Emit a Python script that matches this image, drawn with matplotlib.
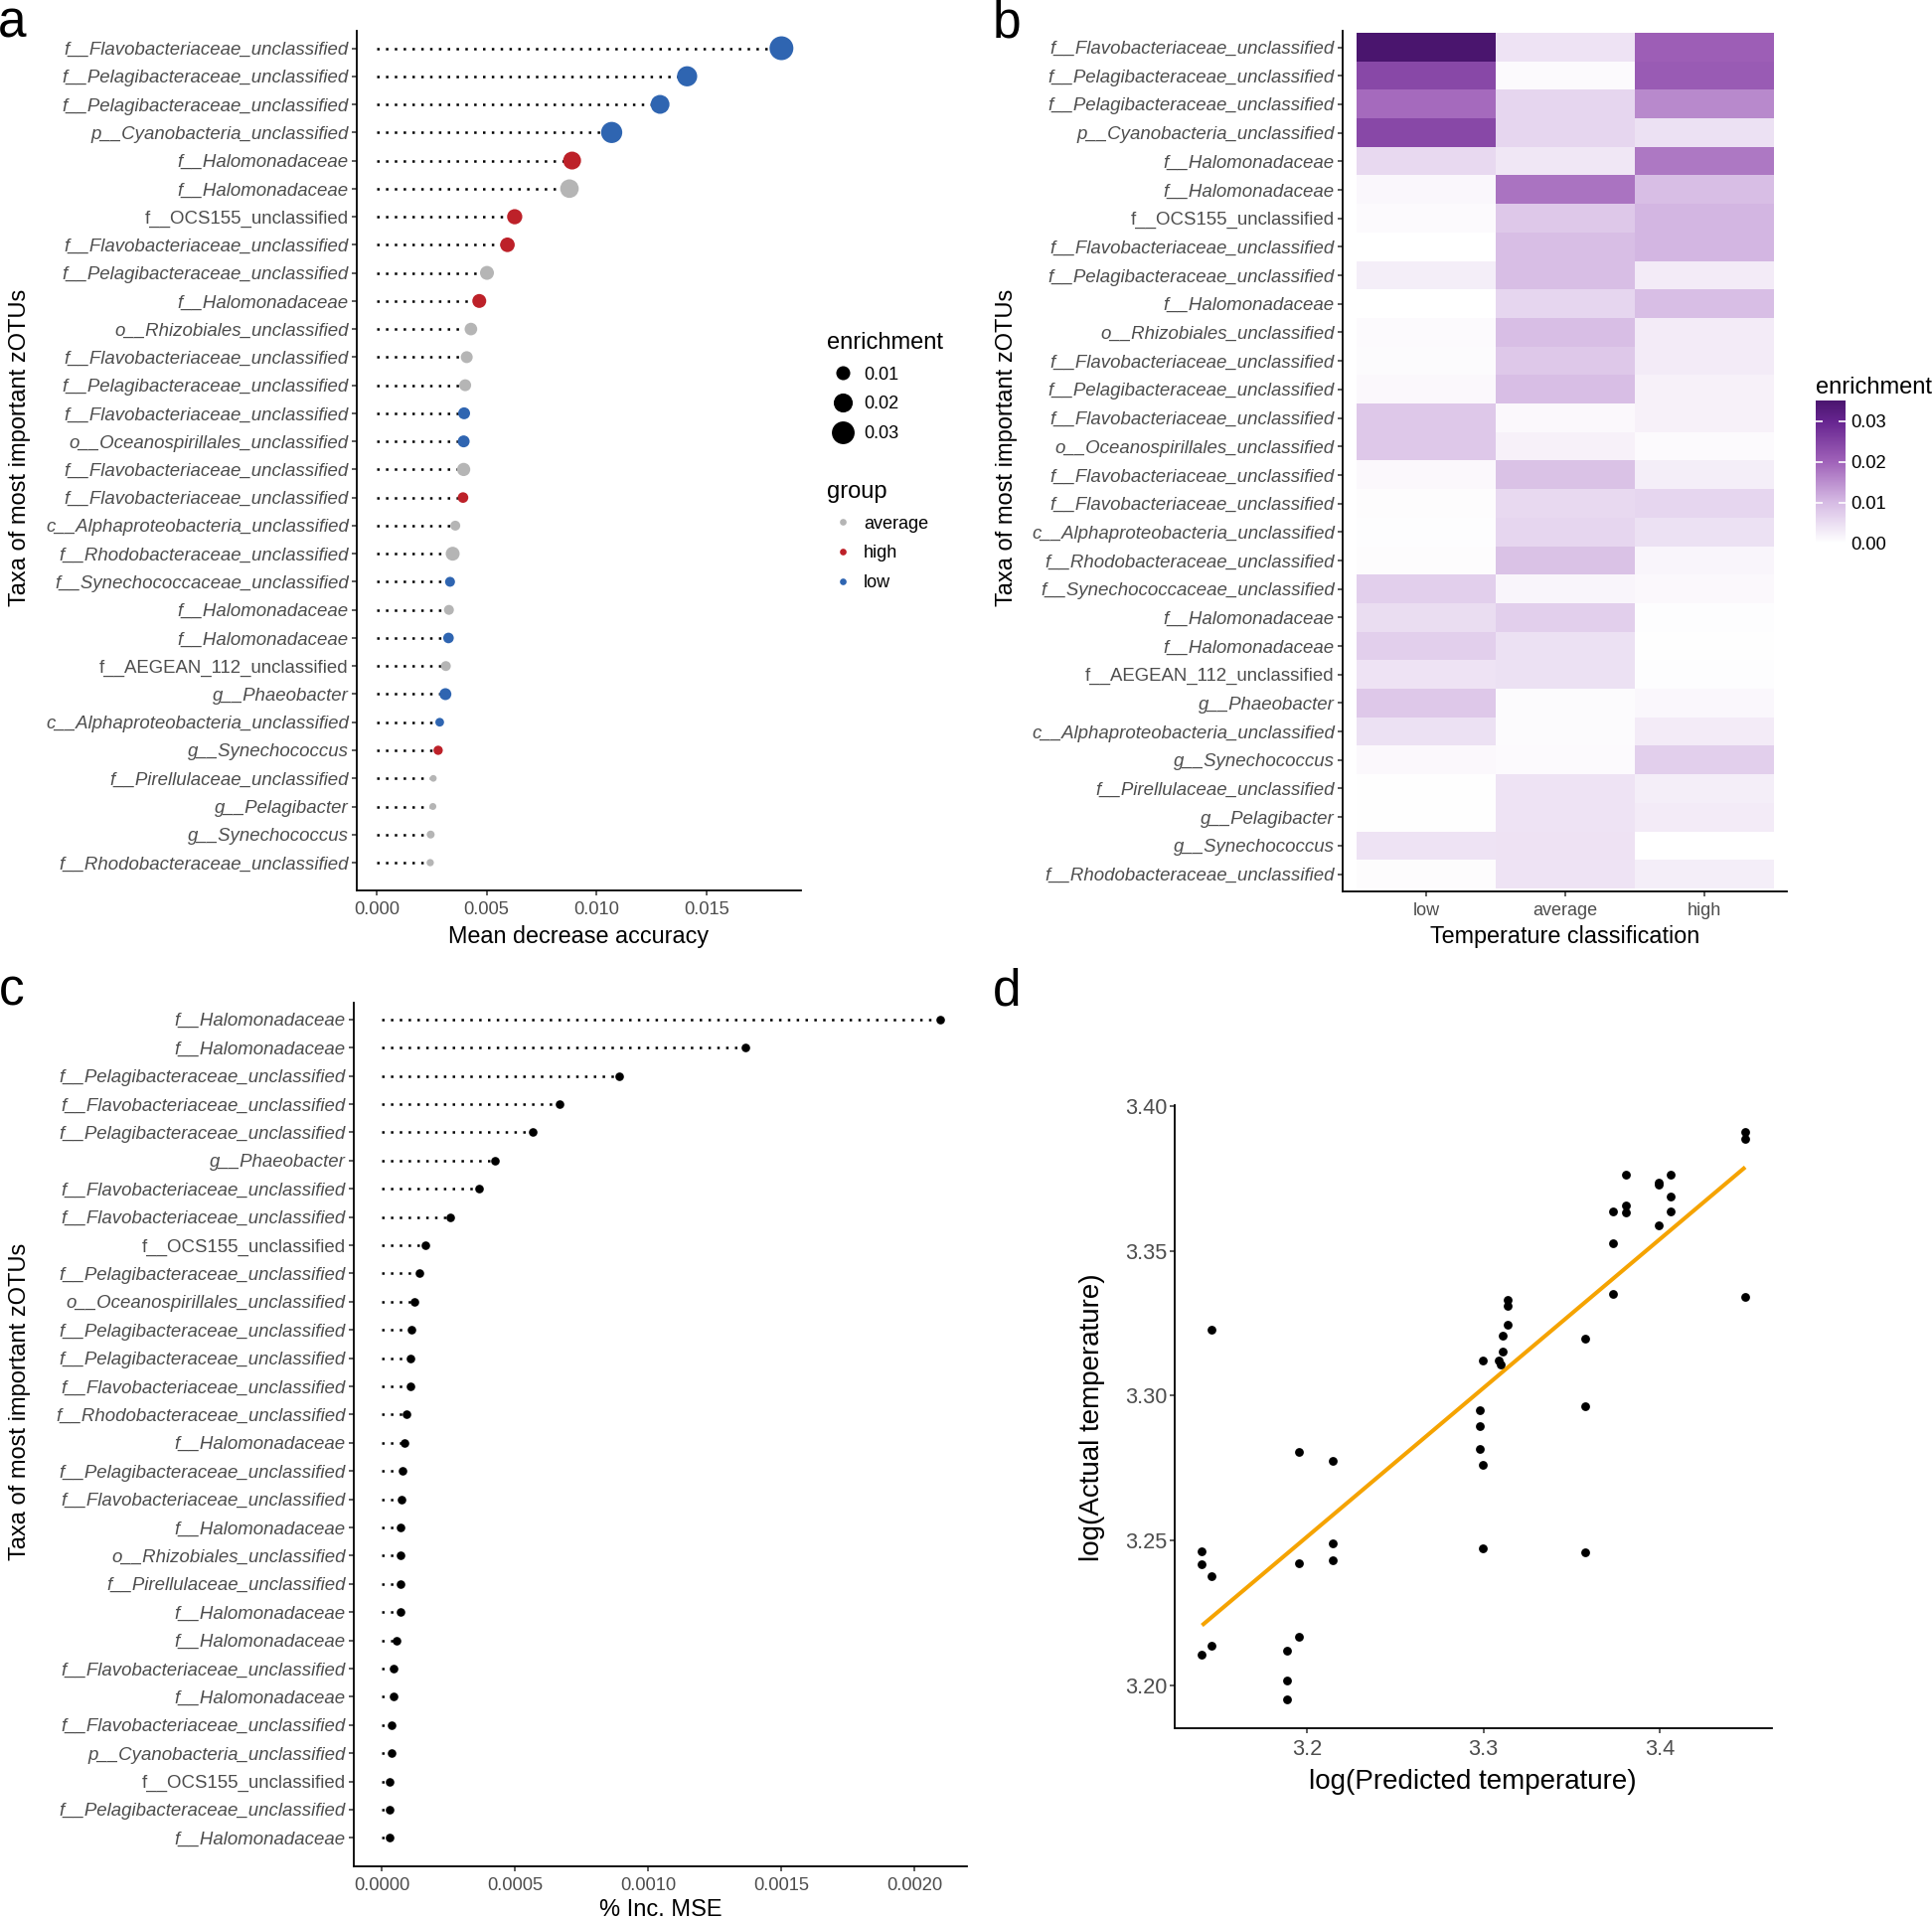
import numpy as np
import matplotlib
matplotlib.use("Agg")
import matplotlib.pyplot as plt
from matplotlib.colors import LinearSegmentedColormap
from matplotlib.lines import Line2D

plt.rcParams['font.family'] = ['Liberation Sans', 'DejaVu Sans']

W, H = 1944, 1932
DPI = 100
PX = 72.0 / DPI  # points per pixel

# ---------------- data ----------------
taxa_a = [
    "f__Flavobacteriaceae_unclassified", "f__Pelagibacteraceae_unclassified",
    "f__Pelagibacteraceae_unclassified", "p__Cyanobacteria_unclassified",
    "f__Halomonadaceae", "f__Halomonadaceae", "f__OCS155_unclassified",
    "f__Flavobacteriaceae_unclassified", "f__Pelagibacteraceae_unclassified",
    "f__Halomonadaceae", "o__Rhizobiales_unclassified",
    "f__Flavobacteriaceae_unclassified", "f__Pelagibacteraceae_unclassified",
    "f__Flavobacteriaceae_unclassified", "o__Oceanospirillales_unclassified",
    "f__Flavobacteriaceae_unclassified", "f__Flavobacteriaceae_unclassified",
    "c__Alphaproteobacteria_unclassified", "f__Rhodobacteraceae_unclassified",
    "f__Synechococcaceae_unclassified", "f__Halomonadaceae", "f__Halomonadaceae",
    "f__AEGEAN_112_unclassified", "g__Phaeobacter",
    "c__Alphaproteobacteria_unclassified", "g__Synechococcus",
    "f__Pirellulaceae_unclassified", "g__Pelagibacter", "g__Synechococcus",
    "f__Rhodobacteraceae_unclassified",
]
mda_a = [0.01841, 0.01412, 0.01289, 0.01069, 0.00889, 0.00877, 0.00628, 0.00595,
         0.00502, 0.00467, 0.00429, 0.00410, 0.00403, 0.00398, 0.00396, 0.00396,
         0.00393, 0.00358, 0.00346, 0.00334, 0.00329, 0.00327, 0.00315, 0.00313,
         0.00287, 0.00280, 0.00258, 0.00256, 0.00246, 0.00244]
enrich_a = [0.0334, 0.0229, 0.0197, 0.0256, 0.0175, 0.0190, 0.0121, 0.0110,
            0.0099, 0.0099, 0.0079, 0.0070, 0.0070, 0.0070, 0.0070, 0.0088,
            0.0054, 0.0047, 0.0099, 0.0047, 0.0047, 0.0054, 0.0047, 0.0070,
            0.0036, 0.0041, 0.0023, 0.0024, 0.0030, 0.0026]
group_a = ["low", "low", "low", "low", "high", "average", "high", "high",
           "average", "high", "average", "average", "average", "low", "low",
           "average", "high", "average", "average", "low", "average", "low",
           "average", "low", "low", "high", "average", "average", "average",
           "average"]
size_legend_values = [0.01, 0.02, 0.03]
group_levels = ["average", "high", "low"]

temp_classes = ["low", "average", "high"]
enrich_low = [0.035, 0.024, 0.019, 0.024, 0.0055, 0.0012, 0.0008, 0.0, 0.0025, 0.0,
              0.0008, 0.0006, 0.001, 0.008, 0.008, 0.001, 0.0005, 0.0003, 0.0005, 0.007,
              0.005, 0.007, 0.004, 0.008, 0.0045, 0.001, 0.0002, 0.0002, 0.004, 0.0005]
enrich_avg = [0.004, 0.0008, 0.006, 0.006, 0.0035, 0.018, 0.008, 0.0095, 0.0095, 0.006,
              0.0095, 0.008, 0.0095, 0.001, 0.002, 0.009, 0.0055, 0.006, 0.009, 0.0015,
              0.007, 0.0045, 0.0045, 0.0006, 0.0006, 0.0008, 0.004, 0.004, 0.0042, 0.004]
enrich_high = [0.0205, 0.021, 0.0155, 0.0045, 0.0175, 0.0095, 0.0105, 0.0105, 0.003, 0.0095,
               0.003, 0.003, 0.002, 0.002, 0.0008, 0.0025, 0.006, 0.0045, 0.0015, 0.001,
               0.0003, 0.0002, 0.0003, 0.0012, 0.003, 0.007, 0.0025, 0.003, 0.0, 0.0025]
colorbar_ticks = [0.00, 0.01, 0.02, 0.03]

taxa_c = [
    "f__Halomonadaceae", "f__Halomonadaceae", "f__Pelagibacteraceae_unclassified",
    "f__Flavobacteriaceae_unclassified", "f__Pelagibacteraceae_unclassified",
    "g__Phaeobacter", "f__Flavobacteriaceae_unclassified",
    "f__Flavobacteriaceae_unclassified", "f__OCS155_unclassified",
    "f__Pelagibacteraceae_unclassified", "o__Oceanospirillales_unclassified",
    "f__Pelagibacteraceae_unclassified", "f__Pelagibacteraceae_unclassified",
    "f__Flavobacteriaceae_unclassified", "f__Rhodobacteraceae_unclassified",
    "f__Halomonadaceae", "f__Pelagibacteraceae_unclassified",
    "f__Flavobacteriaceae_unclassified", "f__Halomonadaceae",
    "o__Rhizobiales_unclassified", "f__Pirellulaceae_unclassified",
    "f__Halomonadaceae", "f__Halomonadaceae", "f__Flavobacteriaceae_unclassified",
    "f__Halomonadaceae", "f__Flavobacteriaceae_unclassified",
    "p__Cyanobacteria_unclassified", "f__OCS155_unclassified",
    "f__Pelagibacteraceae_unclassified", "f__Halomonadaceae",
]
incmse_c = [0.002094, 0.001365, 0.000892, 0.000665, 0.000565, 0.000425, 0.000364,
            0.000257, 0.000163, 0.000142, 0.000121, 0.000110, 0.000107, 0.000107,
            0.000091, 0.000084, 0.000077, 0.000072, 0.000070, 0.000068, 0.000068,
            0.000068, 0.000056, 0.000042, 0.000042, 0.000035, 0.000035, 0.000030,
            0.000030, 0.000030]

pred_d = [3.1405, 3.1405, 3.1461, 3.1461, 3.1405, 3.1459, 3.1953, 3.1953, 3.1953,
          3.1886, 3.1886, 3.1886, 3.2146, 3.2146, 3.2146, 3.2982, 3.2982, 3.2982,
          3.2999, 3.2999, 3.2999, 3.3085, 3.3098, 3.3110, 3.3110, 3.3140, 3.3140,
          3.3140, 3.3579, 3.3579, 3.3579, 3.3737, 3.3737, 3.3737, 3.3807, 3.3807,
          3.3807, 3.3993, 3.3993, 3.3993, 3.4062, 3.4062, 3.4062, 3.4485, 3.4485,
          3.4485]
actual_d = [3.2463, 3.2418, 3.2377, 3.2135, 3.2104, 3.3227, 3.2807, 3.2422, 3.2167,
            3.2119, 3.2015, 3.1950, 3.2776, 3.2491, 3.2431, 3.2949, 3.2896, 3.2815,
            3.2761, 3.2474, 3.3121, 3.3121, 3.3108, 3.3153, 3.3206, 3.3244, 3.3311,
            3.3331, 3.3196, 3.2963, 3.2459, 3.3636, 3.3526, 3.3350, 3.3762, 3.3656,
            3.3632, 3.3735, 3.3728, 3.3587, 3.3762, 3.3687, 3.3636, 3.3912, 3.3888,
            3.3340]

# ---------------- style helpers ----------------
GROUP_COLORS = {"average": "#b5b5b5", "high": "#bd2129", "low": "#2f65b1"}
TICK_GREY = "#4d4d4d"
DOTTED = (0, (1, 2.55))

fig = plt.figure(figsize=(W / DPI, H / DPI), dpi=DPI)


def add_ax(l, t, r, b):
    return fig.add_axes([l / W, 1 - b / H, (r - l) / W, (b - t) / H])


def style_axes(ax, labelsize=13.2):
    for s in ["top", "right"]:
        ax.spines[s].set_visible(False)
    for s in ["left", "bottom"]:
        ax.spines[s].set_linewidth(1.3)
        ax.spines[s].set_color("black")
    ax.tick_params(length=3.4, width=1.1, color="#333333", labelcolor=TICK_GREY,
                   labelsize=labelsize, pad=2.5)
    ax.tick_params(axis="x", pad=4.5)


def taxa_style(label):
    return "normal" if any(ch.isdigit() for ch in label) else "italic"


def set_taxa_ticks(ax, labels):
    pos = np.arange(1, len(labels) + 1)
    ax.set_yticks(pos)
    ax.set_yticklabels(labels, fontsize=13.4)
    for lab, txt in zip(ax.get_yticklabels(), labels):
        lab.set_style(taxa_style(txt))


def enrich_diam_px(e):
    e = np.asarray(e, dtype=float)
    return 3.5 + 21.0 * np.sqrt(np.clip((e - 0.0015) / 0.0335, 0, 1))


def ftext(x, y, s, **kw):
    fig.text(x / W, 1 - y / H, s, **kw)


# ---------------- panel a ----------------
axa = add_ax(359, 31, 806, 896)
ya = np.arange(1, len(taxa_a) + 1)
axa.hlines(ya, 0, mda_a, colors="black", linestyles=[DOTTED], linewidth=1.8, zorder=1)
axa.scatter(mda_a, ya, s=(enrich_diam_px(enrich_a) * PX) ** 2,
            c=[GROUP_COLORS[g] for g in group_a], linewidths=0, zorder=3)
axa.set_xlim(-0.0009, 0.0193)
axa.set_ylim(30.99, 0.38)
axa.set_xticks([0.0, 0.005, 0.010, 0.015])
axa.set_xticklabels(["0.000", "0.005", "0.010", "0.015"])
style_axes(axa)
set_taxa_ticks(axa, taxa_a)

size_handles = [Line2D([0], [0], marker="o", ls="", color="black", markeredgewidth=0,
                       markersize=float(enrich_diam_px(v)) * PX) for v in size_legend_values]
leg1 = axa.legend(size_handles, [f"{v:.2f}" for v in size_legend_values], title="enrichment",
                  loc="upper left", bbox_to_anchor=(832 / W, 1 - 334 / H),
                  bbox_transform=fig.transFigure, frameon=False, fontsize=13,
                  title_fontsize=17, alignment="left", handlelength=1.8,
                  handletextpad=0.25, labelspacing=0.70, borderpad=0, borderaxespad=0)
axa.add_artist(leg1)
grp_handles = [Line2D([0], [0], marker="o", ls="", color=GROUP_COLORS[g], markeredgewidth=0,
                      markersize=6.7 * PX) for g in group_levels]
leg2 = axa.legend(grp_handles, group_levels, title="group",
                  loc="upper left", bbox_to_anchor=(832 / W, 1 - 484 / H),
                  bbox_transform=fig.transFigure, frameon=False, fontsize=13,
                  title_fontsize=17, alignment="left", handlelength=1.8,
                  handletextpad=0.25, labelspacing=0.70, borderpad=0, borderaxespad=0)

ftext(582.5, 942, "Mean decrease accuracy", fontsize=16.8, ha="center", va="center")
ftext(20, 450, "Taxa of most important zOTUs", fontsize=17, rotation=90,
      ha="center", va="center")

# ---------------- panel b ----------------
VMAX = 0.0351
cmap = LinearSegmentedColormap.from_list(
    "enr", [(0.0, "#ffffff"), (0.01 / VMAX, "#d6bbe4"), (0.02 / VMAX, "#a062b9"),
            (0.03 / VMAX, "#66248f"), (1.0, "#4a156e")])
axb = add_ax(1351, 30.7, 1798.4, 897)
mat = np.column_stack([enrich_low, enrich_avg, enrich_high])
im = axb.imshow(mat, cmap=cmap, vmin=0, vmax=VMAX, aspect="auto",
                extent=(0.5, 3.5, len(taxa_a) + 0.5, 0.5), interpolation="nearest")
axb.set_xlim(0.4, 3.6)
axb.set_ylim(30.61, 0.41)
axb.set_xticks([1, 2, 3])
axb.set_xticklabels(temp_classes)
style_axes(axb, labelsize=13)
set_taxa_ticks(axb, taxa_a)
ftext(1574.5, 942, "Temperature classification", fontsize=16.8, ha="center", va="center")
ftext(1013, 450, "Taxa of most important zOTUs", fontsize=17, rotation=90,
      ha="center", va="center")

cax = add_ax(1826.7, 402.7, 1856.7, 402.7 + VMAX / 0.01 * 41.0)
cb = fig.colorbar(im, cax=cax)
cb.outline.set_visible(False)
cb.set_ticks(colorbar_ticks)
cb.set_ticklabels([f"{v:.2f}" for v in colorbar_ticks])
cax.tick_params(which="both", direction="in", left=True, right=True, labelleft=False,
                labelright=True, color="white", length=5, width=1.2, labelsize=13.2,
                labelcolor="black", pad=4)
ftext(1826.5, 390, "enrichment", fontsize=17, ha="left", va="center")

# ---------------- panel c ----------------
axc = add_ax(356, 1009.3, 973, 1878.3)
yc = np.arange(1, len(taxa_c) + 1)
axc.hlines(yc, 0, incmse_c, colors="black", linestyles=[DOTTED], linewidth=1.8, zorder=1)
axc.scatter(incmse_c, yc, s=(8.6 * PX) ** 2, c="black", linewidths=0, zorder=3)
axc.set_xlim(-0.000106, 0.002196)
axc.set_ylim(31.02, 0.42)
axc.set_xticks([0.0, 0.0005, 0.0010, 0.0015, 0.0020])
axc.set_xticklabels(["0.0000", "0.0005", "0.0010", "0.0015", "0.0020"])
style_axes(axc)
set_taxa_ticks(axc, taxa_c)
ftext(664.5, 1922, "% Inc. MSE", fontsize=17, ha="center", va="center")
ftext(20, 1410, "Taxa of most important zOTUs", fontsize=17, rotation=90,
      ha="center", va="center")

# ---------------- panel d ----------------
axd = add_ax(1182.3, 1111.7, 1782.7, 1739.3)
axd.scatter(pred_d, actual_d, s=(8.8 * PX) ** 2, c="black", linewidths=0, zorder=3)
coef = np.polyfit(pred_d, actual_d, 1)
xs = np.array([min(pred_d), max(pred_d)])
axd.plot(xs, np.polyval(coef, xs), color="#f5a300", linewidth=2.9, zorder=2,
         solid_capstyle="butt")
axd.set_xlim(3.1252, 3.4635)
axd.set_ylim(3.185, 3.4005)
axd.set_xticks([3.2, 3.3, 3.4])
axd.set_xticklabels(["3.2", "3.3", "3.4"])
axd.set_yticks([3.20, 3.25, 3.30, 3.35, 3.40])
axd.set_yticklabels(["3.20", "3.25", "3.30", "3.35", "3.40"])
style_axes(axd, labelsize=15.7)
ftext(1481.6, 1793, "log(Predicted temperature)", fontsize=20, ha="center", va="center")
ftext(1098.5, 1426, "log(Actual temperature)", fontsize=20, rotation=90,
      ha="center", va="center")

# ---------------- panel letters ----------------
for letter, (px, py) in {"a": (12, 37), "b": (1013, 37), "c": (12, 1012), "d": (1013, 1012)}.items():
    ftext(px, py, letter, fontsize=37, ha="center", va="baseline")

fig.savefig("out.png", dpi=DPI)
